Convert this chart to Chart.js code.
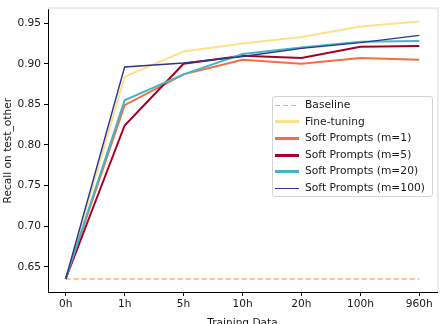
<!DOCTYPE html>
<html>
<head>
<meta charset="utf-8">
<script src="https://cdn.jsdelivr.net/npm/chart.js@4"></script>
<style>
  html, body { margin: 0; padding: 0; background: #fff; overflow: hidden; }
  #wrap { position: relative; width: 440px; height: 324px; overflow: hidden; }
  #legend {
    position: absolute; left: 272px; top: 96px; width: 161px; height: 101px;
    border: 1px solid #d4d4d4; border-radius: 3px; background: rgba(255,255,255,0.85);
    font-family: "DejaVu Sans", sans-serif; font-size: 10.7px; color: #1a1a1a;
    box-sizing: border-box; padding-top: 0px;
  }
  .row { position: relative; height: 16.6px; line-height: 16.6px; padding-left: 32px; white-space: nowrap; }
  .row i { position: absolute; left: 2px; width: 24px; }
</style>
</head>
<body>
<div id="wrap">
  <canvas id="lineChart" width="440" height="330"></canvas>
  <div id="legend"></div>
</div>
<script>
// categories on the x axis
var hours = ["0h", "1h", "5h", "10h", "20h", "100h", "960h"];
var yTicks = [0.65, 0.70, 0.75, 0.80, 0.85, 0.90, 0.95];

// series values (recall on test_other)
var baseline   = [0.635, 0.635, 0.635, 0.635, 0.635, 0.635, 0.635];
var fineTuning = [0.635, 0.884, 0.915, 0.925, 0.933, 0.946, 0.952];
var softM1     = [0.635, 0.849, 0.887, 0.905, 0.900, 0.907, 0.905];
var softM5     = [0.635, 0.824, 0.900, 0.910, 0.907, 0.921, 0.922];
var softM20    = [0.635, 0.855, 0.887, 0.912, 0.920, 0.927, 0.928];
var softM100   = [0.635, 0.896, 0.901, 0.909, 0.919, 0.926, 0.935];

var names = ["Baseline", "Fine-tuning", "Soft Prompts (m=1)", "Soft Prompts (m=5)", "Soft Prompts (m=20)", "Soft Prompts (m=100)"];
var series = [baseline, fineTuning, softM1, softM5, softM20, softM100];
var colors = ["#fdae61", "#fee08b", "#f46d43", "#a50026", "#45b5c4", "#2b3592"];
var widths = [1.3, 2, 2, 2, 2, 1.4];

function pts(arr) {
  return arr.map(function (v, i) { return { x: i, y: v }; });
}

var datasets = series.map(function (s, i) {
  return {
    label: names[i],
    data: pts(s),
    borderColor: colors[i],
    backgroundColor: colors[i],
    borderWidth: widths[i],
    borderDash: i === 0 ? [5, 3] : [],
    pointRadius: 0,
    tension: 0,
    fill: false,
    order: series.length - i
  };
});

var frame = {
  id: 'frame',
  beforeDatasetsDraw: function (chart) {
    var a = chart.chartArea, c = chart.ctx;
    c.save();
    c.strokeStyle = '#ebebeb';
    c.lineWidth = 2;
    c.beginPath();
    c.moveTo(a.left, a.top - 1);
    c.lineTo(a.right + 1, a.top - 1);
    c.lineTo(a.right + 1, a.bottom);
    c.stroke();
    c.restore();
  }
};

var tickFont = { family: "DejaVu Sans", size: 10.6 };

var ctx = document.getElementById("lineChart").getContext('2d');
var chart = new Chart(ctx, {
  type: 'line',
  data: { datasets: datasets },
  plugins: [frame],
  options: {
    responsive: false,
    animation: false,
    devicePixelRatio: 1,
    layout: { padding: { top: 3, right: 3, left: 0, bottom: 0 } },
    plugins: { legend: { display: false }, tooltip: { enabled: false } },
    scales: {
      x: {
        type: 'linear',
        min: -0.3,
        max: 6.3,
        afterFit: function (s) { s.height = 38; },
        afterBuildTicks: function (s) { s.ticks = hours.map(function (h, i) { return { value: i }; }); },
        ticks: {
          color: '#1a1a1a',
          font: tickFont,
          padding: 2,
          maxRotation: 0,
          callback: function (v) { return hours[v]; }
        },
        grid: { drawOnChartArea: false, drawTicks: true, tickLength: 4, color: '#000' },
        border: { color: '#000', width: 1 },
        title: { display: true, text: 'Training Data', color: '#1a1a1a', font: tickFont, padding: { top: 2, bottom: 0 } }
      },
      y: {
        min: 0.619,
        max: 0.967,
        afterFit: function (s) { s.width = 48; },
        afterBuildTicks: function (s) { s.ticks = yTicks.map(function (v) { return { value: v }; }); },
        ticks: {
          color: '#1a1a1a',
          font: tickFont,
          padding: 3,
          callback: function (v) { return v.toFixed(2); }
        },
        grid: { drawOnChartArea: false, drawTicks: true, tickLength: 4, color: '#000' },
        border: { color: '#000', width: 1 },
        title: { display: true, text: 'Recall on test_other', color: '#1a1a1a', font: tickFont, padding: { top: 2, bottom: 0 } }
      }
    }
  }
});

// legend built from the chart's datasets
var leg = document.getElementById('legend');
chart.data.datasets.forEach(function (d) {
  var row = document.createElement('div');
  row.className = 'row';
  var sw = document.createElement('i');
  var h = d.borderDash.length ? 1.5 : (d.borderWidth < 1.5 ? 1.2 : 3);
  sw.style.height = h + 'px';
  sw.style.top = (8.3 - h / 2) + 'px';
  if (d.borderDash.length) {
    sw.style.background = 'repeating-linear-gradient(to right, ' + d.borderColor + ' 0 5px, transparent 5px 8px)';
  } else {
    sw.style.background = d.borderColor;
  }
  row.appendChild(sw);
  row.appendChild(document.createTextNode(d.label));
  leg.appendChild(row);
});
</script>
</body>
</html>
